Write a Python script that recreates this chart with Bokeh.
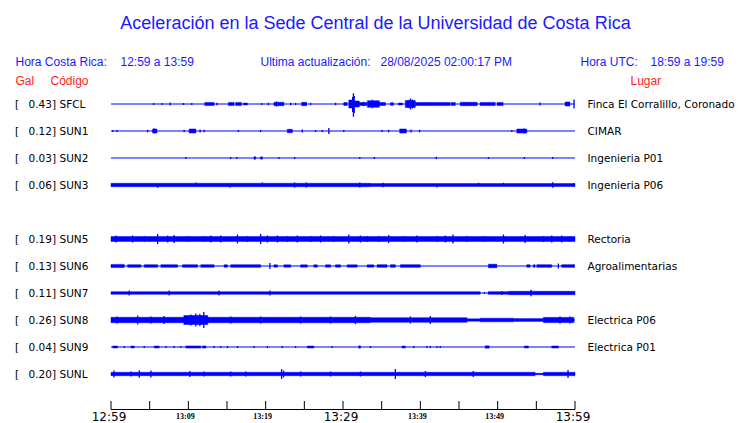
from bokeh.plotting import figure
from bokeh.models import Range1d, ColumnDataSource
from bokeh.core.properties import value
from bokeh.embed import file_html
from bokeh.resources import INLINE

# ---------------- data ----------------
title_text = "Aceleración en la Sede Central de la Universidad de Costa Rica"
local_label = "Hora Costa Rica:"
local_window = "12:59 a 13:59"
update_label = "Ultima actualización:"
update_time = "28/08/2025 02:00:17 PM"
utc_label = "Hora UTC:"
utc_window = "18:59 a 19:59"

slots = ["SFCL", "SUN1", "SUN2", "SUN3", "", "SUN5", "SUN6", "SUN7", "SUN8", "SUN9", "SUNL"]
stations = ["SFCL", "SUN1", "SUN2", "SUN3", "SUN5", "SUN6", "SUN7", "SUN8", "SUN9", "SUNL"]
peak_gal = [0.43, 0.12, 0.03, 0.06, 0.19, 0.13, 0.11, 0.26, 0.04, 0.20]
places = ["Finca El Corralillo, Coronado", "CIMAR", "Ingenieria P01", "Ingenieria P06",
          "Rectoria", "Agroalimentarias", "", "Electrica P06", "Electrica P01", ""]

window_start = 0      # minutes after 12:59
window_end = 60
tick_minutes = [0, 5, 10, 15, 20, 25, 30, 35, 40, 45, 50, 55, 60]
label_minutes = [0, 10, 20, 30, 40, 50, 60]
tick_labels = ["12:59", "13:09", "13:19", "13:29", "13:39", "13:49", "13:59"]
big_labels = [True, False, False, True, False, False, True]

# envelopes: (start minute, end minute, half amplitude)  -- amplitude units: 27 = trace spacing
sfcl_env = [(12.13, 13.33, 1.6), (15.19, 15.91, 1.6), (16.13, 16.86, 1.6), (17.12, 17.64, 1.0),
            (21.07, 22.36, 1.7), (24.65, 25.29, 1.7), (30.10, 30.54, 1.5), (30.75, 31.2, 4.0),
            (31.5, 32.1, 3.0), (32.1, 33.1, 1.6), (33.16, 34.71, 3.3), (34.71, 35.48, 1.5),
            (36.13, 36.52, 1.3), (37.16, 37.68, 1.0), (38.06, 39.35, 3.5), (39.35, 41.29, 1.5),
            (41.29, 43.87, 1.6), (44.0, 44.52, 1.4), (45.16, 47.35, 1.7), (47.74, 49.68, 1.6),
            (49.94, 50.71, 1.6), (58.71, 59.35, 2.0)]
sfcl_spk = [(5.51, 1, 1), (6.58, 1, 1), (7.65, 1.5, 1.5), (9.38, 1, 1), (10.45, 1, 1), (13.68, 1.2, 1.2),
            (19.48, 1, 1), (20.35, 1.2, 1.2), (21.42, 2.5, 2.5), (23.23, 1.2, 1.2), (23.87, 1, 1),
            (25.81, 1.2, 1.2), (29.03, 1.2, 1.2), (31.25, 7, 8), (31.35, 10.7, 12.7), (31.45, 8, 9),
            (32.65, 2, 2), (33.8, 4.2, 4.2), (38.45, 4, 4), (38.71, 5.5, 5.5), (38.97, 4.5, 4.5),
            (55.48, 1.5, 1.5), (59.87, 4.5, 4.5)]

sun1_env = [(5.38, 5.94, 2.0), (10.10, 10.97, 2.0), (22.8, 23.45, 1.7), (37.33, 38.19, 2.0),
            (52.48, 53.77, 2.0)]
sun1_spk = [(0.22, 1, 1), (0.77, 1, 1), (4.74, 1.2, 1.2), (5.59, 2.5, 2.5), (9.46, 1.2, 1.2),
            (11.52, 1.5, 1.5), (12.04, 1.2, 1.2), (16.48, 1, 1), (19.35, 1, 1), (24.74, 1.5, 1.5),
            (26.45, 1, 1), (27.32, 1, 1), (28.17, 3, 3), (30.10, 1, 1), (35.06, 1, 1), (35.91, 1.2, 1.2),
            (38.80, 1.5, 1.5), (39.91, 1.2, 1.2), (51.83, 1, 1), (53.42, 2.5, 2.5)]

sun2_env = [(18.49, 18.71, 1.3), (19.35, 19.57, 1.2)]
sun2_spk = [(9.68, 1, 1), (15.48, 1, 1), (16.26, 1, 1), (21.72, 1, 1), (23.74, 1, 1), (32.17, 1, 1),
            (34.06, 1, 1), (42.06, 1.3, 1.3), (48.81, 1, 1), (53.46, 1, 1), (57.12, 1, 1)]

sun3_env = [(0, 33.55, 1.7), (33.55, 60, 1.4)]
sun3_spk = [(6.03, 1, 2.7), (10.97, 2.5, 1), (15.39, 1, 2.5), (19.57, 2.5, 1), (23.74, 2.5, 2.5),
            (25.25, 2.5, 2.5), (32.17, 2.5, 2.5), (35.19, 2.2, 2.2), (42.15, 1, 2.5), (47.52, 2.2, 1),
            (50.75, 2.2, 1), (57.12, 2.7, 2.7), (59.87, 2, 2)]

sun5_env = [(0, 60, 2.4)]
sun5_spk = [(0.65, 3.5, 3.5), (2.80, 3.5, 3.5), (4.30, 3, 3), (6.03, 5, 5), (7.32, 3.5, 3.5), (8.17, 4, 4),
            (9.90, 3, 3), (12.04, 3, 3), (12.90, 3.5, 3.5), (14.19, 3.5, 3.5), (16.35, 4.5, 4.5),
            (17.64, 3, 3), (19.35, 5, 5), (20.22, 3.5, 3.5), (21.51, 3.5, 3.5), (22.80, 3, 3),
            (24.09, 3.5, 3.5), (25.81, 3, 3), (27.10, 3.5, 3.5), (28.81, 3, 3), (30.75, 4.5, 4.5),
            (32.26, 3.5, 3.5), (33.12, 3, 3), (34.62, 3, 3), (35.91, 4, 4), (37.85, 3, 3),
            (39.57, 3.5, 3.5), (42.15, 3, 3), (43.23, 3.5, 3.5), (44.22, 4.5, 4.5), (46.03, 3, 3),
            (48.17, 3, 3), (50.75, 4.5, 4.5), (53.55, 4, 4), (55.91, 3, 3), (56.99, 3.5, 3.5),
            (58.28, 3.5, 3.5), (59.35, 3, 3)]

sun6_env = [(0.0, 1.72, 1.6), (2.15, 3.87, 1.3), (4.30, 6.03, 1.3), (6.45, 8.61, 1.3), (9.25, 11.19, 1.3),
            (11.61, 13.33, 1.3), (14.62, 15.06, 1.2), (15.48, 19.35, 1.3), (21.07, 21.51, 1.2),
            (22.36, 23.23, 1.2), (24.52, 25.38, 1.2), (26.23, 26.67, 1.2), (27.74, 28.39, 1.2),
            (29.03, 29.68, 1.2), (30.54, 31.83, 1.2), (33.12, 33.97, 1.2), (34.41, 35.70, 1.3),
            (36.13, 36.77, 1.3), (37.42, 40.0, 1.3), (48.81, 49.89, 1.8), (53.77, 54.19, 1.3),
            (54.62, 54.84, 1.3), (55.06, 56.99, 1.3), (58.28, 59.87, 1.3)]
sun6_spk = [(20.55, 3, 3), (57.85, 2.5, 2.5), (59.87, 1.8, 1.8)]

sun7_env = [(0, 47.74, 1.3), (48.77, 51.4, 1.3), (51.4, 60, 1.7)]
sun7_spk = [(2.36, 2.5, 2.5), (7.52, 2.5, 2.5), (13.97, 2.5, 2.5), (20.55, 2.5, 2.5), (48.3, 1, 1),
            (50.54, 2, 2), (54.32, 3.2, 3.2)]

sun8_env = [(0, 33.55, 2.7), (9.42, 12.52, 4.5), (33.55, 46.03, 2.3), (46.03, 47.74, 1.2),
            (47.74, 52.04, 1.8), (52.04, 55.91, 1.4), (55.91, 59.87, 2.6)]
sun8_spk = [(0.77, 3.5, 3.5), (3.45, 4.5, 4.5), (5.16, 3.5, 3.5), (6.84, 4, 4), (10.32, 5.5, 5.5),
            (10.97, 6.5, 6.5), (11.48, 6, 6), (12.0, 8, 8), (15.48, 3.5, 3.5), (19.35, 3.5, 3.5),
            (24.52, 3.5, 3.5), (28.39, 3.5, 3.5), (31.61, 4, 4), (38.71, 3.5, 3.5), (41.29, 4, 4),
            (58.06, 3.5, 3.5), (59.35, 3.5, 3.5)]

sun9_env = [(0.22, 0.86, 1.0), (2.58, 3.01, 1.0), (5.59, 6.23, 1.0), (9.68, 11.61, 1.1), (11.83, 12.26, 1.1),
            (25.38, 26.23, 1.0), (32.04, 32.26, 1.2), (37.63, 38.06, 1.0), (48.39, 48.90, 1.2),
            (53.46, 53.97, 1.0), (56.99, 57.85, 1.0)]
sun9_spk = [(1.72, 1, 1), (4.30, 1, 1), (7.10, 1, 1), (8.17, 1, 1), (9.03, 1, 1), (13.33, 1, 1),
            (14.19, 1, 1), (15.06, 1, 1), (16.35, 1, 1), (18.49, 1, 1), (20.22, 1, 1), (22.15, 1, 1),
            (23.87, 1, 1), (28.6, 1, 1), (33.55, 1, 1), (39.14, 1, 1), (40.86, 1, 1), (41.29, 1, 1),
            (42.15, 1, 1), (42.58, 1, 1)]

sunl_env = [(0, 54.84, 1.7), (54.84, 55.91, 0.6), (55.91, 60, 1.7)]
sunl_spk = [(0.39, 3.5, 3.5), (2.58, 2.5, 2.5), (3.65, 3.7, 3.7), (5.16, 3.5, 3.5), (10.19, 3, 3),
            (12.0, 2.5, 2.5), (15.48, 2.5, 2.5), (17.42, 2.5, 2.5), (22.06, 5, 5), (22.32, 3.5, 3.5),
            (24.52, 2.5, 2.5), (28.39, 2.5, 2.5), (32.26, 2.5, 2.5), (36.77, 5, 5), (40.65, 3, 3),
            (46.84, 3, 3), (59.10, 4, 4)]

trace_env = {"SFCL": sfcl_env, "SUN1": sun1_env, "SUN2": sun2_env, "SUN3": sun3_env, "SUN5": sun5_env,
             "SUN6": sun6_env, "SUN7": sun7_env, "SUN8": sun8_env, "SUN9": sun9_env, "SUNL": sunl_env}
trace_spk = {"SFCL": sfcl_spk, "SUN1": sun1_spk, "SUN2": sun2_spk, "SUN3": sun3_spk, "SUN5": sun5_spk,
             "SUN6": sun6_spk, "SUN7": sun7_spk, "SUN8": sun8_spk, "SUN9": sun9_spk, "SUNL": sunl_spk}

# ---------------- layout helpers (screen pixel -> data) ----------------
W, H = 740, 423
X0_PX, PX_PER_MIN = 110.5, 464.0 / 60.0
Y0_PX, PX_PER_ROW = 103.5, 27.0


def sx(px):
    return (px - X0_PX) / PX_PER_MIN


def sy(py):
    return (py - Y0_PX) / PX_PER_ROW


BLUE = "#0000ff"
TBLUE = "#1a1aff"
RED = "#ff1a1a"

p = figure(width=W, height=H, output_backend="svg", toolbar_location=None,
           x_range=Range1d(sx(0), sx(W)), y_range=Range1d(sy(H), sy(0)),
           x_axis_location=None, y_axis_location=None, min_border=0,
           background_fill_color="white", border_fill_color="white", outline_line_color=None)
p.grid.visible = False

# ---------------- traces ----------------
env = dict(left=[], right=[], top=[], bottom=[])
spk = dict(x=[], y0=[], y1=[])
base = dict(x0=[], x1=[], y=[])
for name in stations:
    r = slots.index(name)
    base["x0"].append(window_start)
    base["x1"].append(window_end)
    base["y"].append(r)
    for t0, t1, a in trace_env[name]:
        env["left"].append(t0)
        env["right"].append(t1)
        env["top"].append(r - a / PX_PER_ROW)
        env["bottom"].append(r + a / PX_PER_ROW)
    for t, up, dn in trace_spk[name]:
        spk["x"].append(t)
        spk["y0"].append(r - up / PX_PER_ROW)
        spk["y1"].append(r + dn / PX_PER_ROW)

p.segment(x0="x0", y0="y", x1="x1", y1="y", source=ColumnDataSource(base), line_color=BLUE, line_width=1)
p.quad(left="left", right="right", top="top", bottom="bottom", source=ColumnDataSource(env),
       fill_color=BLUE, line_color=BLUE, line_width=0.5)
p.segment(x0="x", y0="y0", x1="x", y1="y1", source=ColumnDataSource(spk), line_color=BLUE, line_width=1.3)

# ---------------- station labels ----------------
rows = [slots.index(n) for n in stations]
lab_font = value("DejaVu Sans")
p.text(x=[sx(14.5)] * len(rows), y=rows, text=["["] * len(rows), text_font=lab_font,
       text_font_size="10.5px", text_baseline="middle", text_align="left", text_color="black")
p.text(x=[sx(55.5)] * len(rows), y=rows, text=[f"{v:.2f}]" for v in peak_gal], text_font=lab_font,
       text_font_size="10.5px", text_baseline="middle", text_align="right", text_color="black")
p.text(x=[sx(59)] * len(rows), y=rows, text=stations, text_font=lab_font,
       text_font_size="10.5px", text_baseline="middle", text_align="left", text_color="black")
p.text(x=[sx(587)] * len(rows), y=rows, text=places, text_font=lab_font,
       text_font_size="10.5px", text_baseline="middle", text_align="left", text_color="black")

# ---------------- header ----------------
hfont = value("Liberation Sans")
p.text(x=[sx(375)], y=[sy(22.5)], text=[title_text], text_font=hfont, text_font_size="18px",
       text_baseline="middle", text_align="center", text_color=TBLUE)
p.text(x=[sx(15), sx(120), sx(260), sx(380), sx(580), sx(650)], y=[sy(61.5)] * 6,
       text=[local_label, local_window, update_label, update_time, utc_label, utc_window],
       text_font=hfont, text_font_size="12px", text_baseline="middle", text_align="left", text_color=TBLUE)
p.text(x=[sx(15), sx(50), sx(630)], y=[sy(80.5)] * 3, text=["Gal", "Código", "Lugar"],
       text_font=hfont, text_font_size="12px", text_baseline="middle", text_align="left", text_color=RED)

# ---------------- time axis ----------------
axis_y = sy(409)
p.segment(x0=[window_start], y0=[axis_y], x1=[window_end], y1=[axis_y], line_color="black", line_width=1)
p.segment(x0=tick_minutes, y0=[sy(400.5)] * len(tick_minutes), x1=tick_minutes,
          y1=[axis_y] * len(tick_minutes), line_color="black", line_width=1)
bx = [m for m, b in zip(label_minutes, big_labels) if b]
bt = [t for t, b in zip(tick_labels, big_labels) if b]
sxm = [m for m, b in zip(label_minutes, big_labels) if not b]
st = [t for t, b in zip(tick_labels, big_labels) if not b]
p.text(x=bx, y=[sy(H)] * len(bx), text=bt, text_font=value("DejaVu Sans"), text_font_size="12px",
       text_baseline="bottom", text_align="center", text_color="black", x_offset=-2)
p.text(x=sxm, y=[sy(411.5)] * len(sxm), text=st, text_font=value("Liberation Serif"),
       text_font_size="8px", text_font_style="bold", text_baseline="top", text_align="center",
       text_color="black", x_offset=-3)

open("out.html", "w").write(file_html(p, INLINE))
